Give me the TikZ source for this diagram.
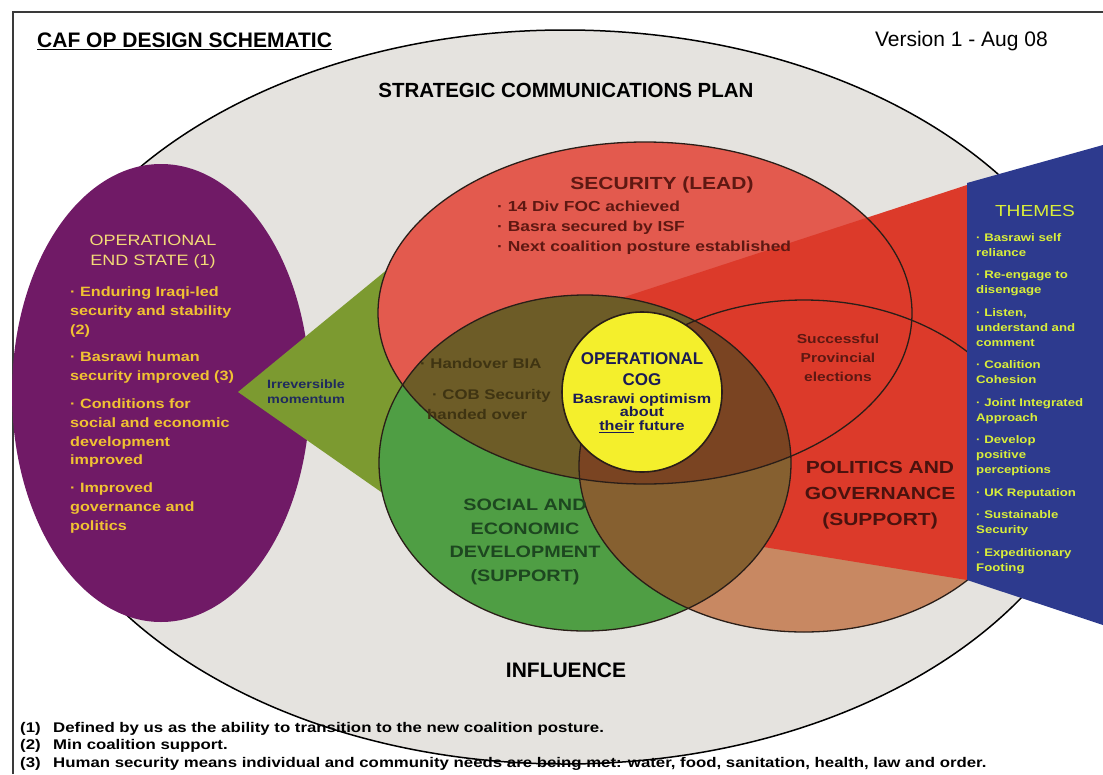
\documentclass[tikz,border=0pt]{standalone}
\usepackage{fontspec}
\setmainfont{Liberation Sans}
\newfontfamily\wfont[FakeStretch=1.2]{Liberation Sans}
\newcommand\fs[2]{\fontsize{#1}{#2}\selectfont}

\definecolor{framec}{HTML}{3A3A3A}
\definecolor{plan}{HTML}{E5E3DF}
\definecolor{endstate}{HTML}{701A66}
\definecolor{navy}{HTML}{2D3A8E}
\definecolor{momgreen}{HTML}{7C9A30}
\definecolor{secred}{HTML}{E35A4E}
\definecolor{wedgered}{HTML}{DC3A2A}
\definecolor{poltan}{HTML}{C88862}
\definecolor{socgreen}{HTML}{4F9E44}
\definecolor{secsoc}{HTML}{6D5C27}
\definecolor{polsoc}{HTML}{866030}
\definecolor{allthree}{HTML}{7A4422}
\definecolor{cogyellow}{HTML}{F4EF2C}
\definecolor{outl}{HTML}{2A1E18}
\definecolor{sectext}{HTML}{5E1812}
\definecolor{isatext}{HTML}{3F3412}
\definecolor{poltext}{HTML}{4A120E}
\definecolor{soctext}{HTML}{1D4720}
\definecolor{momtext}{HTML}{1F2A5E}
\definecolor{cogtext}{HTML}{1B1B55}
\definecolor{endhead}{HTML}{F3DA78}
\definecolor{endtext}{HTML}{F0C232}
\definecolor{themetext}{HTML}{D9EE3A}

\begin{document}
\begin{tikzpicture}[x=1pt, y=-1pt,
    ring/.style={draw=outl, line width=1.3pt},
    txt/.style={inner sep=0pt, align=center},
    lst/.style={inner sep=0pt, align=left},
    note/.style={inner sep=0pt, anchor=west, font=\wfont\bfseries\fs{14}{17}}]
    \useasboundingbox (0,0) rectangle (1103,774);
    \fill[white] (0,0) rectangle (1103,774);
    \draw[framec, line width=1.5pt] (13,774) -- (13,12) -- (1103,12);

    % outer ellipse and the end state
    \draw[fill=plan, line width=1.5pt] (565,397) ellipse [x radius=545pt, y radius=367pt];
    \fill[endstate] (161,393) ellipse [x radius=149pt, y radius=229pt];
    \fill[momgreen] (238,392) -- (500,177) -- (500,575) -- cycle;

    % the three lines of operation
    \fill[secred] (645,313) ellipse [x radius=267pt, y radius=171pt];
    \fill[poltan] (804,466) ellipse [x radius=225pt, y radius=166pt];
    \fill[wedgered] (967,185) -- (560,318) -- (560,514) -- (967,580) -- cycle;
    \fill[socgreen] (585,463) ellipse [x radius=206pt, y radius=168pt];
    \begin{scope}
        \clip (585,463) ellipse [x radius=206pt, y radius=168pt];
        \fill[secsoc] (645,313) ellipse [x radius=267pt, y radius=171pt];
        \fill[polsoc] (804,466) ellipse [x radius=225pt, y radius=166pt];
        \clip (645,313) ellipse [x radius=267pt, y radius=171pt];
        \fill[allthree] (804,466) ellipse [x radius=225pt, y radius=166pt];
    \end{scope}
    \draw[ring] (645,313) ellipse [x radius=267pt, y radius=171pt];
    \draw[ring] (585,463) ellipse [x radius=206pt, y radius=168pt];
    \draw[ring] (804,466) ellipse [x radius=225pt, y radius=166pt];
    \draw[ring, fill=cogyellow, line width=1.6pt] (642,392) circle [radius=80pt];

    % themes panel sits on top
    \fill[navy] (967,183) -- (1103,145) -- (1103,625) -- (967,580) -- cycle;

    % headings
    \node[anchor=west, inner sep=0pt, font=\bfseries\fs{21}{24}] (title) at (37,41) {\underline{CAF OP DESIGN SCHEMATIC}};
    \node[anchor=east, inner sep=0pt, font=\fs{21}{24}] (version) at (1048,41) {Version 1 - Aug 08};
    \node[txt, font=\bfseries\fs{20.5}{24}] (plan) at (566,90) {STRATEGIC COMMUNICATIONS PLAN};
    \node[txt, font=\bfseries\fs{21}{24}] (influence) at (566,670) {INFLUENCE};

    % end state
    \node[txt, text=endhead, font=\wfont\fs{15}{20}] (endhead) at (153,252) {OPERATIONAL\\END STATE (1)};
    \node[lst, anchor=west, text=endtext, font=\wfont\bfseries\fs{13.5}{18.8}] (endlist) at (70,410)
        {· Enduring Iraqi-led\\security and stability\\(2)\\[9pt]
         · Basrawi human\\security improved (3)\\[9pt]
         · Conditions for\\social and economic\\development\\improved\\[9pt]
         · Improved\\governance and\\politics};
    \node[txt, text=momtext, font=\wfont\bfseries\fs{12}{15}] (momentum) at (306,392) {Irreversible\\momentum};

    % security
    \node[txt, text=sectext, font=\wfont\bfseries\fs{17.5}{20}] (security) at (662,185) {SECURITY (LEAD)};
    \node[lst, anchor=west, text=sectext, font=\wfont\bfseries\fs{14.5}{20}] (seclist) at (497,228)
        {· 14 Div FOC achieved\\· Basra secured by ISF\\· Next coalition posture established};
    \node[anchor=west, inner sep=0pt, text=isatext, font=\wfont\bfseries\fs{14}{20}] (bia) at (420,363) {· Handover BIA};
    \node[lst, anchor=west, text=isatext, font=\wfont\bfseries\fs{14}{20}] (cob) at (427,404) {\hspace*{5pt}· COB Security\\handed over};
    \node[txt, text=sectext, font=\wfont\bfseries\fs{13}{19}] (elections) at (838,358) {Successful\\Provincial\\elections};

    % supporting lines
    \node[txt, text=poltext, font=\wfont\bfseries\fs{17.5}{26}] (politics) at (880,495) {POLITICS AND\\GOVERNANCE\\(SUPPORT)};
    \node[txt, text=soctext, font=\wfont\bfseries\fs{16.5}{23.7}] (social) at (525,542) {SOCIAL AND\\ECONOMIC\\DEVELOPMENT\\(SUPPORT)};

    % centre of gravity
    \node[txt, text=cogtext, font=\bfseries\fs{17}{21}] (cog) at (642,369) {OPERATIONAL\\COG};
    \node[txt, text=cogtext, font=\wfont\bfseries\fs{13.5}{13.5}] (optimism) at (642,413) {Basrawi optimism\\about\\\underline{their} future};

    % themes
    \node[txt, text=themetext, font=\wfont\fs{16}{18}] (themes) at (1035,211) {THEMES};
    \node[lst, anchor=north west, text=themetext, font=\wfont\bfseries\fs{11}{15}] (themelist) at (976,233)
        {· Basrawi self\\reliance\\[7.5pt]
         · Re-engage to\\disengage\\[7.5pt]
         · Listen,\\understand and\\comment\\[7.5pt]
         · Coalition\\Cohesion\\[7.5pt]
         · Joint Integrated\\Approach\\[7.5pt]
         · Develop\\positive\\perceptions\\[7.5pt]
         · UK Reputation\\[7.5pt]
         · Sustainable\\Security\\[7.5pt]
         · Expeditionary\\Footing};

    % footnotes
    \node[note] (fn1) at (20,729) {\makebox[33pt][l]{(1)}Defined by us as the ability to transition to the new coalition posture.};
    \node[note] (fn2) at (20,746) {\makebox[33pt][l]{(2)}Min coalition support.};
    \node[note] (fn3) at (20,764) {\makebox[33pt][l]{(3)}Human security means individual and community needs are being met: water, food, sanitation, health, law and order.};
\end{tikzpicture}
\end{document}
